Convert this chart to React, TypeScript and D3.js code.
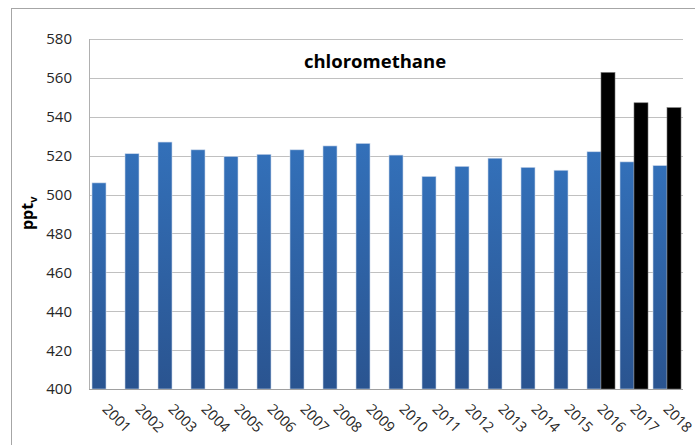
import * as d3 from 'd3';
import React, { useRef, useEffect } from 'react';

const years = ['2001', '2002', '2003', '2004', '2005', '2006', '2007', '2008', '2009',
    '2010', '2011', '2012', '2013', '2014', '2015', '2016', '2017', '2018'];
const blueValues = [506, 521, 527, 523, 519.6, 520.7, 523, 525, 526.3,
    520.3, 509.3, 514.5, 518.7, 514, 512.5, 522, 516.8, 514.9];
const blackValues = [null, null, null, null, null, null, null, null, null,
    null, null, null, null, null, null, 562.8, 547.2, 544.7];
const yTicks = [400, 420, 440, 460, 480, 500, 520, 540, 560, 580];
const chartTitle = 'chloromethane';

function App() {
    const ref = useRef<SVGSVGElement>(null);

    useEffect(() => {
        const svg = d3.select(ref.current);
        svg.selectAll('*').remove();
        draw(svg);
    }, []);

    const draw = (svg: any) => {
        const left = 89, right = 683, top = 39, bottom = 389;
        const font = "'Open Sans', sans-serif";

        const x = d3.scaleBand().domain(years).range([left, right]);
        const xSub = d3.scaleBand().domain(['blue', 'black']).range([3, 31]);
        const y = d3.scaleLinear().domain([400, 580]).range([bottom, top]);

        const defs = svg.append('defs');
        const grad = defs.append('linearGradient')
            .attr('id', 'blueGrad')
            .attr('x1', 0).attr('y1', 0).attr('x2', 0).attr('y2', 1);
        grad.append('stop').attr('offset', '0%').attr('stop-color', '#3370b9');
        grad.append('stop').attr('offset', '100%').attr('stop-color', '#2a5490');

        // outer chart border (only left and top visible)
        svg.append('rect')
            .attr('x', 11.5).attr('y', 8.5)
            .attr('width', 800).attr('height', 600)
            .attr('fill', 'none')
            .attr('stroke', '#a6a6a6');

        // gridlines
        svg.append('g')
            .selectAll('line')
            .data(yTicks)
            .enter()
            .append('line')
            .attr('x1', left).attr('x2', right)
            .attr('y1', (d: number) => Math.round(y(d)) + 0.5)
            .attr('y2', (d: number) => Math.round(y(d)) + 0.5)
            .attr('stroke', '#c0c0c0');

        // tick labels
        svg.append('g')
            .selectAll('text')
            .data(yTicks)
            .enter()
            .append('text')
            .attr('x', 72)
            .attr('y', (d: number) => y(d))
            .attr('dy', '0.36em')
            .attr('text-anchor', 'end')
            .attr('font-family', font)
            .attr('font-size', '15px')
            .attr('fill', '#262626')
            .text((d: number) => d);

        // blue bars
        const bars = svg.append('g');
        bars.selectAll('.blue')
            .data(years)
            .enter()
            .append('rect')
            .attr('class', 'blue')
            .attr('x', (d: string) => x(d)! + xSub('blue')!)
            .attr('y', (d: string, i: number) => y(blueValues[i]))
            .attr('width', xSub.bandwidth())
            .attr('height', (d: string, i: number) => bottom - y(blueValues[i]))
            .attr('fill', 'url(#blueGrad)')
            .attr('stroke', '#c8d6ea')
            .attr('stroke-width', 0.6);

        // black bars
        const blackYears = years.filter((d, i) => blackValues[i] != null);
        bars.selectAll('.black')
            .data(blackYears)
            .enter()
            .append('rect')
            .attr('class', 'black')
            .attr('x', (d: string) => x(d)! + xSub('black')!)
            .attr('y', (d: string) => y(blackValues[years.indexOf(d)] as number))
            .attr('width', xSub.bandwidth())
            .attr('height', (d: string) => bottom - y(blackValues[years.indexOf(d)] as number))
            .attr('fill', '#000000')
            .attr('stroke', '#777777')
            .attr('stroke-width', 0.6);

        // axes lines
        svg.append('line')
            .attr('x1', left + 0.5).attr('x2', left + 0.5)
            .attr('y1', top).attr('y2', bottom)
            .attr('stroke', '#b0b0b0');
        svg.append('line')
            .attr('x1', left).attr('x2', right)
            .attr('y1', bottom + 0.5).attr('y2', bottom + 0.5)
            .attr('stroke', '#a0a0a0');

        // x labels
        svg.append('g')
            .selectAll('text')
            .data(years)
            .enter()
            .append('text')
            .attr('transform', (d: string) =>
                'translate(' + (x(d)! + x.bandwidth() / 2 - 4) + ',' + 410 + ') rotate(45)')
            .attr('font-family', font)
            .attr('font-size', '14.5px')
            .attr('fill', '#262626')
            .text((d: string) => d);

        // title
        svg.append('text')
            .attr('x', 375)
            .attr('y', 68)
            .attr('text-anchor', 'middle')
            .attr('font-family', font)
            .attr('font-weight', 'bold')
            .attr('font-size', '18.5px')
            .attr('fill', '#000')
            .text(chartTitle);

        // y axis title
        const yt = svg.append('text')
            .attr('transform', 'translate(33,' + ((top + bottom) / 2 + 16) + ') rotate(-90)')
            .attr('font-family', font)
            .attr('font-weight', 'bold')
            .attr('font-size', '16px')
            .attr('fill', '#000');
        yt.append('tspan').text('ppt');
        yt.append('tspan').attr('font-size', '11px').attr('dy', 4).text('v');
    };

    return (
        <svg ref={ref} width={695} height={445}
            style={{ position: 'absolute', left: 0, top: 0, display: 'block', background: '#fff' }}>
        </svg>
    );
}

export default App;
